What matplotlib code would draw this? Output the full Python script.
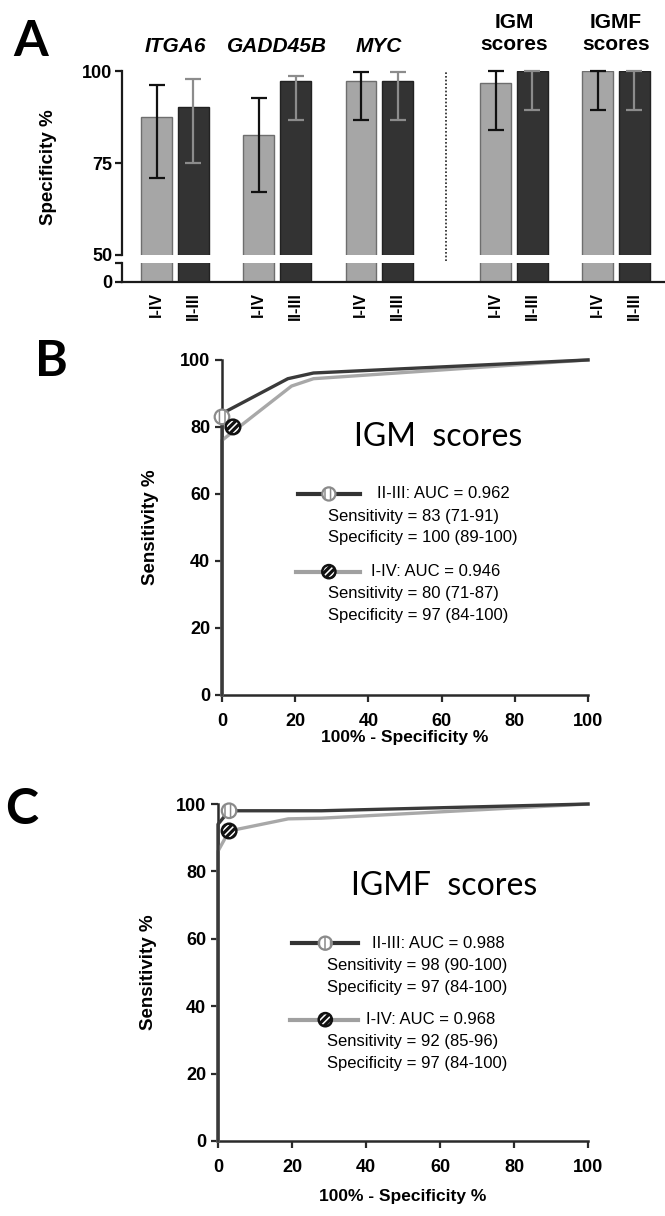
import numpy as np
import matplotlib
matplotlib.use("Agg")
import matplotlib.pyplot as plt
from matplotlib import transforms, font_manager

# ---- panel A: specificity per marker (bars) ----
groups = ["ITGA6", "GADD45B", "MYC", "IGM\nscores", "IGMF\nscores"]
group_italic = [True, True, True, False, False]
stage_labels = ["I-IV", "II-III"]

spec_i_iv = [87.5, 82.6, 97.4, 96.8, 100.0]
spec_i_iv_lo = [71.0, 67.2, 86.7, 84.0, 89.4]
spec_i_iv_hi = [96.2, 92.6, 99.8, 100.0, 100.0]

spec_ii_iii = [90.3, 97.4, 97.4, 100.0, 100.0]
spec_ii_iii_lo = [75.0, 86.7, 86.7, 89.4, 89.4]
spec_ii_iii_hi = [97.7, 98.7, 99.8, 100.0, 100.0]

# ---- panel B: IGM scores ROC ----
igm_fpr_ii_iii = [0, 0, 18, 25, 100]
igm_tpr_ii_iii = [0, 84, 94.4, 96.1, 100]
igm_fpr_i_iv = [0, 0, 19, 25, 100]
igm_tpr_i_iv = [0, 76, 92.2, 94.4, 100]
igm_cut_ii_iii = (0, 83)
igm_cut_i_iv = (3, 80)
igm_text = ["II-III: AUC = 0.962", "Sensitivity = 83 (71-91)", "Specificity = 100 (89-100)",
            "I-IV: AUC = 0.946", "Sensitivity = 80 (71-87)", "Specificity = 97 (84-100)"]

# ---- panel C: IGMF scores ROC ----
igmf_fpr_ii_iii = [0, 0, 3, 28, 100]
igmf_tpr_ii_iii = [0, 94, 98, 98, 100]
igmf_fpr_i_iv = [0, 0, 3, 19, 28, 100]
igmf_tpr_i_iv = [0, 86, 92, 95.6, 95.8, 100]
igmf_cut_ii_iii = (3, 98)
igmf_cut_i_iv = (3, 92)
igmf_text = ["II-III: AUC = 0.988", "Sensitivity = 98 (90-100)", "Specificity = 97 (84-100)",
             "I-IV: AUC = 0.968", "Sensitivity = 92 (85-96)", "Specificity = 97 (84-100)"]


def pick_font(*names):
    have = {f.name for f in font_manager.fontManager.ttflist}
    for n in names:
        if n in have:
            return n
    return "DejaVu Sans"


ARIAL = pick_font("Liberation Sans", "Arimo", "DejaVu Sans")
NARROW = pick_font("Liberation Sans Narrow", "Liberation Sans")
CALIBRI = pick_font("Lato", "Open Sans")

plt.rcParams["font.family"] = ARIAL
plt.rcParams["hatch.linewidth"] = 1.1

LIGHT = "#a6a6a6"
DARK = "#333333"
AXCOL = "#1a1a1a"

fig = plt.figure(figsize=(6.65, 12.16), dpi=100)

# ================= panel A =================
# group centres with an extra gap after the gene markers
pos = np.arange(len(groups)) + np.array([0, 0, 0, 0.32, 0.32])
off, width = 0.18, 0.30
sep_x = 2.65
xlim = (-0.52, 4.80)

ax_top = fig.add_axes([0.1835, 0.7903, 0.8165, 0.1513])
ax_bot = fig.add_axes([0.1835, 0.7681, 0.8165, 0.0156])

for ax in (ax_top, ax_bot):
    ax.bar(pos - off, spec_i_iv, width, color=LIGHT, edgecolor="#6e6e6e", linewidth=1)
    ax.bar(pos + off, spec_ii_iii, width, color=DARK, edgecolor="#222222", linewidth=1)
    ax.set_xlim(*xlim)
    for s in ("top", "right"):
        ax.spines[s].set_visible(False)
    ax.spines["left"].set_linewidth(1.6)
    ax.spines["left"].set_color(AXCOL)
    ax.tick_params(axis="y", length=5, width=1.6, color=AXCOL, pad=2)

err_lo = np.array(spec_i_iv) - np.array(spec_i_iv_lo)
err_hi = np.array(spec_i_iv_hi) - np.array(spec_i_iv)
eb1 = ax_top.errorbar(pos - off, spec_i_iv, yerr=[err_lo, err_hi], fmt="none",
                      ecolor="#111111", elinewidth=1.6, capsize=6, capthick=1.6)
err_lo = np.array(spec_ii_iii) - np.array(spec_ii_iii_lo)
err_hi = np.array(spec_ii_iii_hi) - np.array(spec_ii_iii)
eb2 = ax_top.errorbar(pos + off, spec_ii_iii, yerr=[err_lo, err_hi], fmt="none",
                      ecolor="#8c8c8c", elinewidth=1.6, capsize=6, capthick=1.6)
for eb in (eb1, eb2):
    for art in eb.lines[1] + eb.lines[2]:
        art.set_clip_on(False)

ax_top.set_ylim(50, 100)
ax_top.set_yticks([50, 75, 100])
ax_top.spines["bottom"].set_visible(False)
ax_top.set_xticks([])
ax_top.set_yticklabels(["50", "75", "100"], fontfamily=NARROW, fontweight="bold", fontsize=13)

ax_bot.set_ylim(0, 50)
ax_bot.set_yticks([0, 50])
ax_bot.set_yticklabels(["0", ""], fontfamily=NARROW, fontweight="bold", fontsize=13)
ax_bot.spines["bottom"].set_linewidth(1.6)
ax_bot.spines["bottom"].set_color(AXCOL)
ax_bot.set_xticks(np.concatenate([pos - off, pos + off]))
ax_bot.set_xticklabels([stage_labels[0]] * len(pos) + [stage_labels[1]] * len(pos),
                       rotation=90, fontsize=11.5, fontweight="bold", va="top")
ax_bot.tick_params(axis="x", length=0, pad=7)

# dotted separator between single markers and scores
ax_top.axvline(sep_x, ymin=-28 / 184, ymax=1, color="#222222", linestyle=(0, (1, 1.2)),
               linewidth=1.2, clip_on=False)

ax_top.set_ylabel("Specificity %", fontsize=13.5, fontweight="bold")
ax_top.yaxis.set_label_coords(-0.12, 0.48)

tr = transforms.blended_transform_factory(ax_top.transData, fig.transFigure)
for p, name, it in zip(pos, groups, group_italic):
    ax_top.text(p, 1 - (33.5 if "\n" in name else 47) / 1216, name, transform=tr,
                ha="center", va="center", fontsize=15, fontweight="bold",
                fontstyle="italic" if it else "normal", linespacing=1.25)

# ================= ROC panels =================
def marker_ii_iii(ax, x, y, s=110):
    ax.scatter([x], [y], s=s, facecolor="white", edgecolor="#8a8a8a", hatch="|||",
               linewidths=1.6, zorder=6, clip_on=False)


def marker_i_iv(ax, x, y, s=110):
    ax.scatter([x], [y], s=s, facecolor="#111111", edgecolor="#111111", linewidths=0,
               zorder=6, clip_on=False)
    ax.scatter([x], [y], s=s, facecolor="none", edgecolor="white", hatch="/////",
               linewidths=0, zorder=7, clip_on=False)
    ax.scatter([x], [y], s=s, facecolor="none", edgecolor="#111111", linewidths=1.8,
               zorder=8, clip_on=False)


def roc_panel(ax, title, fpr_a, tpr_a, fpr_b, tpr_b, cut_a, cut_b, texts, lay, ylab_x, xlab_y):
    ax.plot(fpr_b, tpr_b, color="#a8a8a8", linewidth=2.4, clip_on=False, zorder=3)
    ax.plot(fpr_a, tpr_a, color="#3a3a3a", linewidth=2.4, clip_on=False, zorder=4)
    marker_ii_iii(ax, *cut_a)
    marker_i_iv(ax, *cut_b)
    ax.set_xlim(0, 100)
    ax.set_ylim(0, 100)
    ax.set_xticks(np.arange(0, 101, 20))
    ax.set_yticks(np.arange(0, 101, 20))
    for s in ("top", "right"):
        ax.spines[s].set_visible(False)
    for s in ("left", "bottom"):
        ax.spines[s].set_linewidth(1.8)
        ax.spines[s].set_color("#2a2a2a")
    ax.tick_params(length=5, width=1.6, color="#2a2a2a")
    ax.tick_params(axis="x", pad=8)
    for lab in ax.get_xticklabels() + ax.get_yticklabels():
        lab.set_fontfamily(NARROW)
        lab.set_fontweight("bold")
        lab.set_fontsize(13)
    ax.set_ylabel("Sensitivity %", fontsize=13.5, fontweight="bold")
    ax.yaxis.set_label_coords(ylab_x, 0.5)
    ax.set_xlabel("100% - Specificity %", fontsize=12.5, fontweight="bold", fontfamily=NARROW)
    ax.xaxis.set_label_coords(0.5, xlab_y)
    ax.xaxis.label.set_va("center")

    tx, ty, l1, l2, mx, h1, x1, ys, h2, x2 = lay
    ax.text(tx, ty, title, ha="center", va="center", fontsize=23, fontfamily=CALIBRI)
    fs = 12
    # legend entry II-III
    ax.plot([l1, l2], [h1, h1], color="#333333", linewidth=3, clip_on=False, zorder=5)
    marker_ii_iii(ax, mx, h1, s=90)
    ax.text(x1, h1, texts[0], ha="left", va="center", fontsize=fs)
    ax.text(ys, h1 - 6.6, texts[1], ha="left", va="center", fontsize=fs)
    ax.text(ys, h1 - 13.1, texts[2], ha="left", va="center", fontsize=fs)
    # legend entry I-IV
    ax.plot([l1 - 0.5, l2], [h2, h2], color="#a0a0a0", linewidth=3, clip_on=False, zorder=5)
    marker_i_iv(ax, mx, h2, s=90)
    ax.text(x2, h2, texts[3], ha="left", va="center", fontsize=fs)
    ax.text(ys, h2 - 6.6, texts[4], ha="left", va="center", fontsize=fs)
    ax.text(ys, h2 - 13.1, texts[5], ha="left", va="center", fontsize=fs)


ax_b = fig.add_axes([0.3338, 0.4285, 0.5504, 0.2755])
roc_panel(ax_b, "IGM  scores", igm_fpr_ii_iii, igm_tpr_ii_iii, igm_fpr_i_iv, igm_tpr_i_iv,
          igm_cut_ii_iii, igm_cut_i_iv, igm_text,
          (59, 77, 20.8, 37.6, 29.2, 60, 42.3, 29, 36.8, 40.7), -0.172, -0.128)

ax_c = fig.add_axes([0.3278, 0.0617, 0.5564, 0.2771])
roc_panel(ax_c, "IGMF  scores", igmf_fpr_ii_iii, igmf_tpr_ii_iii, igmf_fpr_i_iv, igmf_tpr_i_iv,
          igmf_cut_ii_iii, igmf_cut_i_iv, igmf_text,
          (61, 75.7, 20, 37.8, 29, 58.7, 41.6, 29.5, 36, 40), -0.165, -0.166)

# panel letters
for letter, x, y in (("A", 13, 42), ("B", 35, 362), ("C", 5, 810)):
    fig.text(x / 665, 1 - y / 1216, letter, fontsize=36, fontweight="bold",
             fontfamily=CALIBRI, ha="left", va="center")

fig.savefig("out.png", dpi=100)
